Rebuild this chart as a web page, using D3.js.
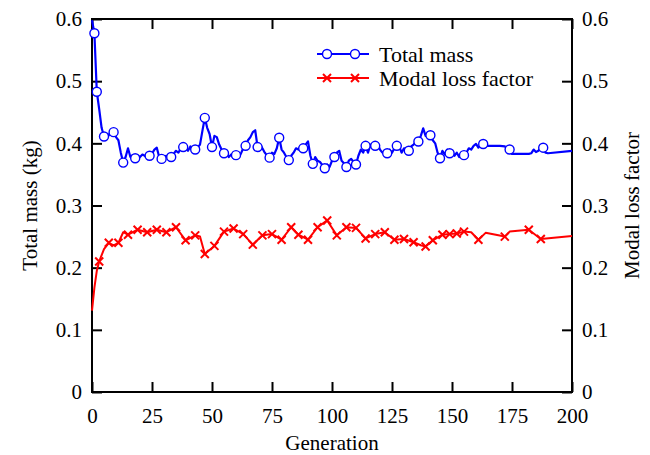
<!DOCTYPE html>
<html>
<head>
<meta charset="utf-8">
<script src="https://cdn.jsdelivr.net/npm/d3@7"></script>
<style>
  body { margin: 0; background: #fff; }
  text { font-family: "Liberation Serif", "Times New Roman", serif; fill: #000; }
</style>
</head>
<body>
<div id="chart"></div>
<script>
// generation / total mass (kg)
const massPoints = [
  [0,0.598],[1,0.577],[2,0.483],[3,0.455],[4,0.425],[5,0.411],[6,0.415],[7,0.413],[8,0.420],[9,0.418],
  [10,0.410],[11,0.405],[12,0.385],[13,0.369],[14,0.378],[15,0.392],[16,0.378],[17,0.381],[18,0.376],[19,0.380],
  [20,0.378],[21,0.382],[22,0.380],[23,0.377],[24,0.380],[25,0.383],[26,0.390],[27,0.393],[28,0.378],[29,0.375],
  [30,0.378],[31,0.380],[32,0.377],[33,0.378],[34,0.383],[35,0.388],[36,0.385],[37,0.392],[38,0.394],[39,0.392],
  [40,0.388],[41,0.395],[42,0.389],[43,0.390],[44,0.393],[45,0.398],[46,0.420],[47,0.441],[48,0.425],[49,0.415],
  [50,0.394],[51,0.412],[52,0.410],[53,0.398],[54,0.390],[55,0.384],[56,0.385],[57,0.378],[58,0.382],[59,0.376],
  [60,0.381],[61,0.378],[62,0.383],[63,0.392],[64,0.396],[65,0.405],[66,0.410],[67,0.418],[68,0.421],[69,0.394],
  [70,0.398],[71,0.392],[72,0.385],[73,0.380],[74,0.377],[75,0.385],[76,0.383],[77,0.392],[78,0.409],[79,0.390],
  [80,0.385],[81,0.378],[82,0.373],[83,0.380],[84,0.385],[85,0.392],[86,0.390],[87,0.395],[88,0.392],[89,0.398],
  [90,0.403],[91,0.380],[92,0.367],[93,0.378],[94,0.372],[95,0.370],[96,0.365],[97,0.360],[98,0.366],[99,0.362],
  [100,0.372],[101,0.378],[102,0.385],[103,0.388],[104,0.372],[105,0.368],[106,0.362],[107,0.372],[108,0.375],[109,0.370],
  [110,0.366],[111,0.380],[112,0.390],[113,0.385],[114,0.396],[115,0.385],[116,0.398],[117,0.392],[118,0.396],[119,0.400],
  [120,0.390],[121,0.385],[122,0.386],[123,0.384],[124,0.390],[125,0.385],[126,0.392],[127,0.396],[128,0.395],[129,0.385],
  [130,0.392],[131,0.390],[132,0.388],[133,0.395],[134,0.398],[135,0.403],[136,0.403],[137,0.412],[138,0.424],[139,0.412],
  [140,0.418],[141,0.413],[142,0.405],[143,0.400],[144,0.385],[145,0.376],[146,0.388],[147,0.382],[148,0.390],[149,0.384],
  [150,0.388],[151,0.380],[152,0.385],[153,0.378],[154,0.380],[155,0.381],[156,0.385],[157,0.392],[158,0.390],[159,0.396],
  [160,0.399],[161,0.393],[162,0.398],[163,0.399],[164,0.396],[170,0.396],[172,0.395],[173,0.392],[174,0.390],[175,0.383],
  [182,0.383],[183,0.384],[184,0.390],[185,0.386],[186,0.388],[187,0.393],[188,0.393],[189,0.385],[190,0.384],[200,0.388]
];
const massMarkerGens = [1,2,5,9,13,18,24,29,33,38,43,47,50,55,60,64,69,74,78,82,88,92,97,101,106,110,114,118,123,127,132,136,141,145,149,155,163,174,188];

// generation / modal loss factor
const lossPoints = [
  [0,0.131],[1,0.168],[2,0.195],[3,0.210],[5,0.230],[7,0.240],[9,0.236],[11,0.240],[13,0.257],[15,0.253],
  [19,0.261],[23,0.257],[27,0.261],[31,0.257],[35,0.265],[39,0.244],[43,0.252],[45,0.250],[47,0.222],[51,0.235],
  [55,0.258],[59,0.263],[63,0.254],[67,0.237],[71,0.252],[75,0.254],[79,0.245],[83,0.265],[86,0.253],[90,0.245],
  [94,0.265],[98,0.276],[102,0.252],[106,0.265],[110,0.264],[114,0.247],[118,0.254],[122,0.257],[126,0.245],[130,0.246],
  [134,0.241],[137,0.236],[139,0.234],[142,0.244],[146,0.253],[149,0.254],[152,0.255],[155,0.258],[158,0.257],[161,0.245],
  [164,0.256],[172,0.250],[174,0.258],[182,0.261],[187,0.246],[200,0.251]
];
const lossMarkerGens = [3,7,11,15,19,23,27,31,35,39,43,47,51,55,59,63,67,71,75,79,83,86,90,94,98,102,106,110,114,118,122,126,130,134,139,142,146,149,152,155,161,172,182,187];

const xTicks = [0, 25, 50, 75, 100, 125, 150, 175, 200];
const yTicks = [0, 0.1, 0.2, 0.3, 0.4, 0.5, 0.6];
const seriesNames = ["Total mass", "Modal loss factor"];

const margin = { top: 19, right: 78, bottom: 63, left: 92 },
    width = 650 - margin.left - margin.right,
    height = 455 - margin.top - margin.bottom;

const svg = d3.select("#chart")
    .append("svg")
    .attr("width", 650)
    .attr("height", 455)
    .append("g")
    .attr("transform", `translate(${margin.left},${margin.top})`);

const x = d3.scaleLinear().domain([0, 200]).range([0, width]);
const yL = d3.scaleLinear().domain([0, 0.6]).range([height, 0]);
const yR = d3.scaleLinear().domain([0, 0.6]).range([height, 0]);

const fmt = d => d === 0 ? "0" : d3.format(".1f")(d);
const fs = "21px";

// axes, ticks pointing inward
function styleAxis(g) {
    g.select(".domain").remove();
    g.selectAll(".tick line").attr("stroke", "#000").attr("stroke-width", 2);
    g.selectAll("text").style("font-size", fs).attr("fill", "#000");
}

svg.append("g")
    .attr("transform", `translate(0,${height})`)
    .call(d3.axisBottom(x).tickValues(xTicks).tickSize(-10).tickPadding(16))
    .call(styleAxis);

svg.append("g")
    .call(d3.axisTop(x).tickValues(xTicks).tickSize(-10).tickFormat(""))
    .call(styleAxis);

svg.append("g")
    .call(d3.axisLeft(yL).tickValues(yTicks).tickSize(-10).tickPadding(10).tickFormat(fmt))
    .call(styleAxis);

svg.append("g")
    .attr("transform", `translate(${width},0)`)
    .call(d3.axisRight(yR).tickValues(yTicks).tickSize(-10).tickPadding(10).tickFormat(fmt))
    .call(styleAxis);

// frame
svg.append("rect")
    .attr("width", width)
    .attr("height", height)
    .attr("fill", "none")
    .attr("stroke", "#000")
    .attr("stroke-width", 2);

// axis titles
svg.append("text")
    .attr("x", width / 2)
    .attr("y", height + 58)
    .attr("text-anchor", "middle")
    .style("font-size", fs)
    .text("Generation");

svg.append("text")
    .attr("transform", `translate(${-55},${height / 2}) rotate(-90)`)
    .attr("text-anchor", "middle")
    .style("font-size", fs)
    .text("Total mass (kg)");

svg.append("text")
    .attr("transform", `translate(${width + 67},${height / 2}) rotate(-90)`)
    .attr("text-anchor", "middle")
    .style("font-size", fs)
    .text("Modal loss factor");

// lines
const massLine = d3.line().x(d => x(d[0])).y(d => yL(d[1]));
const lossLine = d3.line().x(d => x(d[0])).y(d => yR(d[1]));

svg.append("path")
    .datum(massPoints)
    .attr("fill", "none")
    .attr("stroke", "#0000ff")
    .attr("stroke-width", 2.2)
    .attr("stroke-linejoin", "round")
    .attr("d", massLine);

svg.append("path")
    .datum(lossPoints)
    .attr("fill", "none")
    .attr("stroke", "#ff0000")
    .attr("stroke-width", 2)
    .attr("stroke-linejoin", "round")
    .attr("d", lossLine);

// cross marker shape
const crossShape = d3.symbol().type({ draw(ctx, size) {
    const r = Math.sqrt(size) / 2;
    ctx.moveTo(-r, -r); ctx.lineTo(r, r);
    ctx.moveTo(r, -r); ctx.lineTo(-r, r);
} }).size(64);

// markers
const massMarks = massPoints.filter(d => massMarkerGens.includes(d[0]));
svg.selectAll(".mass-dot")
    .data(massMarks)
    .enter()
    .append("circle")
    .attr("class", "mass-dot")
    .attr("cx", d => x(d[0]))
    .attr("cy", d => yL(d[1]))
    .attr("r", 4.5)
    .attr("fill", "#fff")
    .attr("stroke", "#0000ff")
    .attr("stroke-width", 1.4);

const lossMarks = lossPoints.filter(d => lossMarkerGens.includes(d[0]));
svg.selectAll(".loss-x")
    .data(lossMarks)
    .enter()
    .append("path")
    .attr("class", "loss-x")
    .attr("transform", d => `translate(${x(d[0])},${yR(d[1])})`)
    .attr("d", crossShape)
    .attr("fill", "none")
    .attr("stroke", "#ff0000")
    .attr("stroke-width", 2);

// legend
const legend = svg.append("g").attr("transform", "translate(225,35)");
const legendMarks = [10, 38];

legend.append("line")
    .attr("x1", 0).attr("x2", 52).attr("y1", 0).attr("y2", 0)
    .attr("stroke", "#0000ff").attr("stroke-width", 2);
legend.selectAll(".lg-dot")
    .data(legendMarks)
    .enter()
    .append("circle")
    .attr("cx", d => d)
    .attr("cy", 0)
    .attr("r", 4.5)
    .attr("fill", "#fff")
    .attr("stroke", "#0000ff")
    .attr("stroke-width", 1.4);
legend.append("text")
    .attr("x", 62).attr("y", 7.5)
    .style("font-size", "22px")
    .text(seriesNames[0]);

legend.append("line")
    .attr("x1", 0).attr("x2", 52).attr("y1", 24).attr("y2", 24)
    .attr("stroke", "#ff0000").attr("stroke-width", 2);
legend.selectAll(".lg-x")
    .data(legendMarks)
    .enter()
    .append("path")
    .attr("transform", d => `translate(${d},24)`)
    .attr("d", crossShape)
    .attr("fill", "none")
    .attr("stroke", "#ff0000")
    .attr("stroke-width", 2);
legend.append("text")
    .attr("x", 62).attr("y", 31.5)
    .style("font-size", "22px")
    .text(seriesNames[1]);
</script>
</body>
</html>
